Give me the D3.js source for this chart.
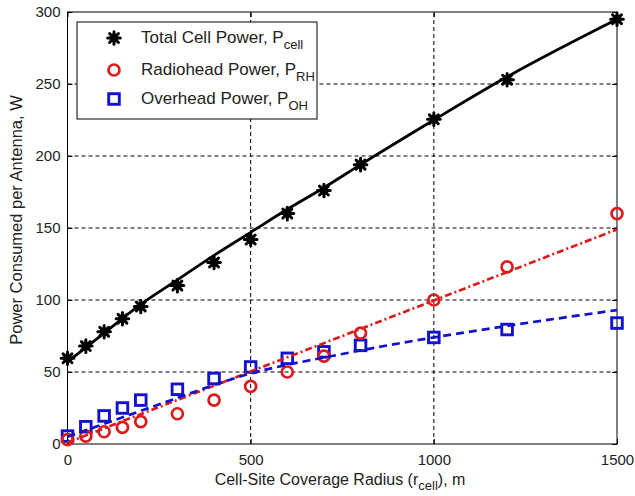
<!DOCTYPE html>
<html>
<head>
<meta charset="utf-8">
<script src="https://cdn.jsdelivr.net/npm/d3@7"></script>
<style>
  html, body { margin: 0; padding: 0; background: #fff; }
  svg { display: block; }
  text { font-family: "Liberation Sans", Arial, sans-serif; fill: #222; }
</style>
</head>
<body>
<svg id="chart" width="635" height="496"></svg>
<script>
// Measured samples (radius in metres, power in watts)
const radius = [0, 50, 100, 150, 200, 300, 400, 500, 600, 700, 800, 1000, 1200, 1500];
const totalPower = [59.5, 68, 78, 87, 95.5, 110, 126, 142, 160, 176, 194, 225.5, 253, 295];
const radioheadPower = [3, 5.5, 8.5, 11.5, 15.5, 21, 30.5, 40, 50, 61, 77, 100, 123, 160];
const overheadPower = [5.5, 12, 19.5, 25, 30.5, 38, 45.5, 53.5, 59.5, 64, 68.5, 74, 79.5, 84];

// Fitted model curves
const fitRadius = [0, 100, 200, 300, 400, 500, 600, 700, 800, 1000, 1200, 1500];
const totalFit = [57, 77, 97, 114, 131, 147, 163, 178, 194, 225, 255, 295];
const overheadFit = [5, 14, 23, 32, 41, 49, 55, 60, 65, 74, 82, 93];
const radioheadFitRadius = [0, 1500];
const radioheadFit = [1, 149];

const xTicks = [0, 500, 1000, 1500];
const yTicks = [0, 50, 100, 150, 200, 250, 300];

const margin = { left: 67.5, right: 18, top: 12, bottom: 52 };
const W = 635, H = 496;
const svg = d3.select("#chart");

const x = d3.scaleLinear().domain([0, 1500]).range([margin.left, W - margin.right]);
const y = d3.scaleLinear().domain([0, 300]).range([H - margin.bottom, margin.top]);

const x0 = x.range()[0], x1 = x.range()[1];
const y0 = y.range()[0], y1 = y.range()[1];

// Grid
const grid = svg.append("g").attr("stroke", "#000").attr("stroke-width", 1)
  .attr("stroke-dasharray", "4,3").attr("fill", "none");
xTicks.filter(v => v > 0 && v < 1500).forEach(v => {
  grid.append("line").attr("x1", x(v)).attr("x2", x(v)).attr("y1", y0).attr("y2", y1);
});
yTicks.filter(v => v > 0 && v < 300).forEach(v => {
  grid.append("line").attr("x1", x0).attr("x2", x1).attr("y1", y(v)).attr("y2", y(v));
});

// Axes with inward ticks
const tickLen = 5;
const fmt = d3.format("d");
const xAxis = d3.axisBottom(x).tickValues(xTicks).tickFormat(fmt).tickSizeInner(-tickLen).tickSizeOuter(0).tickPadding(10);
const yAxis = d3.axisLeft(y).tickValues(yTicks).tickFormat(fmt).tickSizeInner(-tickLen).tickSizeOuter(0).tickPadding(7);
const xTop = d3.axisTop(x).tickValues(xTicks).tickSizeInner(-tickLen).tickSizeOuter(0).tickFormat("");
const yRight = d3.axisRight(y).tickValues(yTicks).tickSizeInner(-tickLen).tickSizeOuter(0).tickFormat("");

function styleAxis(g) {
  g.select(".domain").remove();
  g.selectAll(".tick line").attr("stroke", "#000");
  g.selectAll(".tick text").attr("font-size", 15).attr("fill", "#222")
    .style("font-family", "'Liberation Sans', Arial, sans-serif");
}
svg.append("g").attr("transform", `translate(0,${y0})`).call(xAxis).call(styleAxis);
svg.append("g").attr("transform", `translate(${x0},0)`).call(yAxis).call(styleAxis);
svg.append("g").attr("transform", `translate(0,${y1})`).call(xTop).call(styleAxis);
svg.append("g").attr("transform", `translate(${x1},0)`).call(yRight).call(styleAxis);

// Box
svg.append("rect").attr("x", x0).attr("y", y1).attr("width", x1 - x0).attr("height", y0 - y1)
  .attr("fill", "none").attr("stroke", "#000").attr("stroke-width", 1);

const RED = "#dc1c1c", BLUE = "#1212cc", BLACK = "#000";

// Marker symbols
function star(g, cx, cy, r) {
  const s = g.append("g").attr("transform", `translate(${cx},${cy})`)
    .attr("stroke", BLACK).attr("stroke-width", 3).attr("stroke-linecap", "round");
  for (let k = 0; k < 4; k++) {
    const a = k * Math.PI / 4;
    s.append("line").attr("x1", -r * Math.cos(a)).attr("y1", -r * Math.sin(a))
      .attr("x2", r * Math.cos(a)).attr("y2", r * Math.sin(a));
  }
  s.append("circle").attr("r", r * 0.7).attr("fill", BLACK).attr("stroke", "none");
}
function circ(g, cx, cy) {
  g.append("circle").attr("cx", cx).attr("cy", cy).attr("r", 5.5)
    .attr("fill", "none").attr("stroke", RED).attr("stroke-width", 2.7);
}
function square(g, cx, cy) {
  g.append("rect").attr("x", cx - 5.3).attr("y", cy - 5.3).attr("width", 10.6).attr("height", 10.6)
    .attr("fill", "none").attr("stroke", BLUE).attr("stroke-width", 2.9);
}

const marks = svg.append("g");
radius.forEach((r, i) => square(marks, x(r), y(overheadPower[i])));
radius.forEach((r, i) => circ(marks, x(r), y(radioheadPower[i])));
radius.forEach((r, i) => star(marks, x(r), y(totalPower[i]), 6.3));

// Fitted curves on top of markers
const curve = d3.line().x(d => x(d[0])).y(d => y(d[1])).curve(d3.curveMonotoneX);
svg.append("path").datum(fitRadius.map((r, i) => [r, totalFit[i]]))
  .attr("d", curve).attr("fill", "none").attr("stroke", BLACK).attr("stroke-width", 2.8);
svg.append("path").datum(radioheadFitRadius.map((r, i) => [r, radioheadFit[i]]))
  .attr("d", curve).attr("fill", "none").attr("stroke", RED).attr("stroke-width", 2.7)
  .attr("stroke-dasharray", "7,3,2,3");
svg.append("path").datum(fitRadius.map((r, i) => [r, overheadFit[i]]))
  .attr("d", curve).attr("fill", "none").attr("stroke", BLUE).attr("stroke-width", 2.7)
  .attr("stroke-dasharray", "8,5");

// Axis titles
const xt = svg.append("text").attr("x", 340).attr("y", 485)
  .attr("text-anchor", "middle").attr("font-size", 16);
xt.append("tspan").text("Cell-Site Coverage Radius (r");
xt.append("tspan").attr("font-size", 13).attr("dy", 5).text("cell");
xt.append("tspan").attr("dy", -5).text("), m");

svg.append("text").attr("transform", `translate(22,${(y0 + y1) / 2 - 8}) rotate(-90)`)
  .attr("text-anchor", "middle").attr("font-size", 16.5)
  .text("Power Consumed per Antenna, W");

// Legend
const legend = svg.append("g");
legend.append("rect").attr("x", 77).attr("y", 22).attr("width", 240).attr("height", 97)
  .attr("fill", "#fff").attr("stroke", "#000").attr("stroke-width", 1);
const entries = [
  { label: "Total Cell Power, P", sub: "cell", cy: 38, base: 43, draw: (g, cx, cy) => star(g, cx, cy, 6.3) },
  { label: "Radiohead Power, P", sub: "RH", cy: 70, base: 75, draw: circ },
  { label: "Overhead Power, P", sub: "OH", cy: 99, base: 104, draw: square }
];
entries.forEach(e => {
  e.draw(legend, 114, e.cy);
  const t = legend.append("text").attr("x", 141).attr("y", e.base).attr("font-size", 17);
  t.append("tspan").text(e.label);
  t.append("tspan").attr("font-size", 13).attr("dy", 6).text(e.sub);
});
</script>
</body>
</html>
